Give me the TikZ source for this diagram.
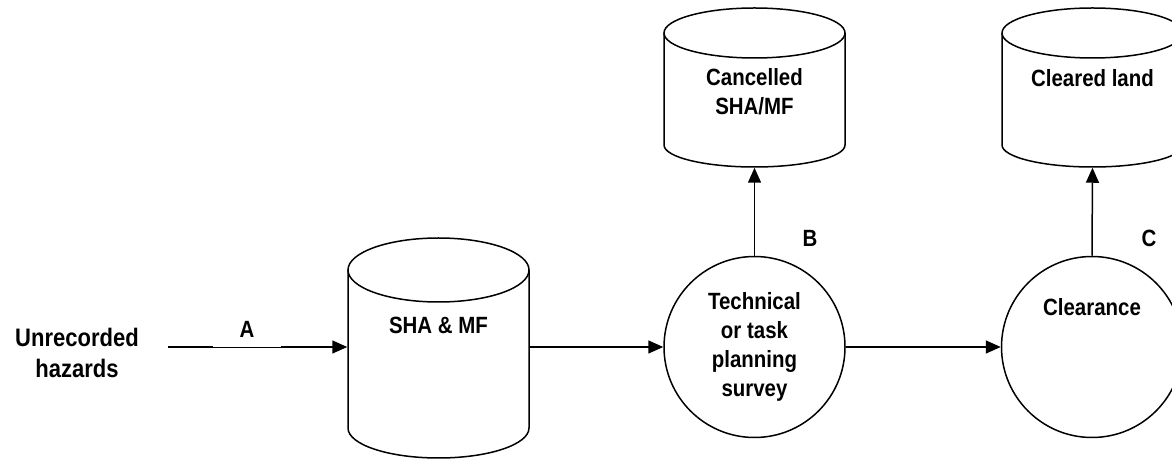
\documentclass[tikz,border=0pt]{standalone}
\usepackage{fontspec}
\setmainfont[FakeStretch=0.87]{Liberation Sans}
\usetikzlibrary{arrows.meta}
\begin{document}
\begin{tikzpicture}[x=1pt,y=1pt,
  line width=1.5pt,
  lbl/.style={font=\fontsize{23.5}{29}\selectfont\bfseries, align=center, inner sep=0pt},
  biglbl/.style={font=\fontsize{25.3}{31}\selectfont\bfseries, align=center, inner sep=0pt},
  conn/.style={-{Triangle[length=15pt,width=13pt]}},
  box/.style={rectangle, inner sep=0pt, draw=none},
  proc/.style={circle, draw, inner sep=0pt, minimum size=181pt}]
\useasboundingbox (0,0) rectangle (1172,460);
% SHA & MF cylinder
\node[box, minimum width=181pt, minimum height=222pt] (sha) at (438.5,113) {};
\draw (348,190) -- (348,32) arc[start angle=180,end angle=360,x radius=90.5,y radius=30] -- (529,190);
\draw (438.5,190) ellipse[x radius=90.5, y radius=32];
\node[lbl] (shatext) at (438.5,135) {SHA \& MF};
% Cancelled cylinder
\node[box, minimum width=181pt, minimum height=159pt] (canc) at (754.5,372.5) {};
\draw (664,427) -- (664,315) arc[start angle=180,end angle=360,x radius=90.5,y radius=22] -- (845,427);
\draw (754.5,427) ellipse[x radius=90.5, y radius=25];
\node[lbl] (canctext) at (754.5,368) {Cancelled\\SHA/MF};
% Cleared land cylinder
\node[box, minimum width=181pt, minimum height=159pt] (clland) at (1092.5,372.5) {};
\draw (1002,427) -- (1002,315) arc[start angle=180,end angle=360,x radius=90.5,y radius=22] -- (1183,427);
\draw (1092.5,427) ellipse[x radius=90.5, y radius=25];
\node[lbl] (cllandtext) at (1092.5,382) {Cleared land};
% circles
\node[proc, lbl, draw, minimum size=181pt] (tech) at (754.5,113) {Technical\\or task\\planning\\survey};
\node[proc] (clr) at (1092,113) {};
\node[lbl] (clrtext) at (1092,153) {Clearance};
% left text
\node[biglbl] (unrec) at (77,107) {Unrecorded\\hazards};
\coordinate (aStart) at (168,113);
% connectors
\draw[conn] (aStart) -- (sha.west);
\node[lbl, fill=white, minimum width=68pt, minimum height=35.4pt] (labA) at (247,131) {A};
\draw[conn] (sha.east) -- (tech.west);
\draw[conn] (tech.east) -- (clr.west);
\draw[conn] (tech.north) -- (canc.south);
\draw[conn] (clr.north) -- (clland.south);
\node[lbl] (labB) at (810,222) {B};
\node[lbl] (labC) at (1149,222) {C};
\end{tikzpicture}
\end{document}
